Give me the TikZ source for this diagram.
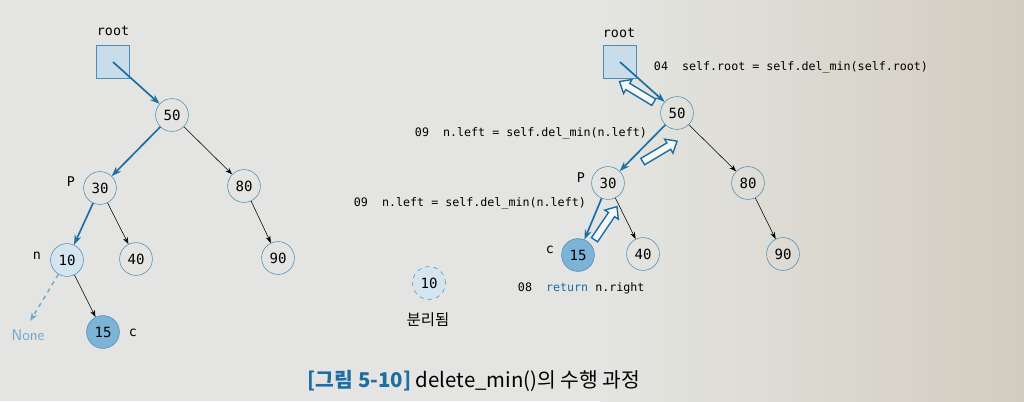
\documentclass[tikz,border=0pt]{standalone}
\usepackage{fontspec}
\setmonofont{DejaVu Sans Mono}
\newfontfamily\krfont{Noto Sans CJK KR}
\usetikzlibrary{positioning}
\usetikzlibrary{arrows.meta}
\usetikzlibrary{shapes.arrows}
\definecolor{lineblue}{HTML}{1C6EA4}
\definecolor{ringblue}{HTML}{4A8DBA}
\definecolor{boxfill}{HTML}{C8DCEA}
\definecolor{palefill}{HTML}{D4E5F0}
\definecolor{cfill}{HTML}{7DB3D6}
\definecolor{nonecol}{HTML}{6FA6D0}
\definecolor{bgleft}{HTML}{E4E5E2}
\definecolor{bgright}{HTML}{D3CDC0}
\tikzset{
  bst/.style={circle, draw=ringblue, thin, minimum size=0.82cm, inner sep=0pt, font=\ttfamily\fontsize{10}{12}\selectfont},
  rootbox/.style={draw=ringblue, fill=boxfill, minimum size=0.83cm, inner sep=0pt},
  edgeline/.style={-{Stealth[length=5pt,width=3.5pt]}, black, thin},
  walk/.style={-{Stealth[length=7pt,width=5pt]}, lineblue, line width=1.2pt},
  retarrow/.style={single arrow, draw=lineblue, line width=1pt, fill=white!70!bgleft, minimum height=1cm, inner xsep=0pt, inner ysep=0.075cm, single arrow head extend=0.11cm, single arrow tip angle=80},
  code/.style={font=\ttfamily\fontsize{8.3}{10}\selectfont, anchor=west},
  tag/.style={font=\ttfamily\fontsize{9.5}{11}\selectfont}
}
\begin{document}
\begin{tikzpicture}[x=0.025cm, y=-0.025cm]
	%Background
	\useasboundingbox (0,0) rectangle (1024,401);
	\fill[bgleft] (0,0) rectangle (1024,401);
	\shade[left color=bgleft, right color=bgright] (600,0) rectangle (1024,401);

	%Left tree
	\node[rootbox] (rootL) at (113,62) {};
	\node[tag] (rootLlabel) at (113,31) {root};
	\node[bst] (L50) at (172,115) {50};
	\node[bst] (L30) at (100,188) {30};
	\node[bst] (L80) at (244,186) {80};
	\node[bst, fill=palefill] (L10) at (67,260) {10};
	\node[bst] (L40) at (136,259) {40};
	\node[bst] (L90) at (278,258) {90};
	\node[bst, fill=cfill] (L15) at (103,332) {15};
	\node[tag] (pL) at (71,182) {P};
	\node[tag] (nL) at (37,256) {n};
	\node[tag] (cL) at (133,333) {c};
	\node[font=\sffamily\fontsize{11}{13}\selectfont, text=nonecol] (none) at (28,335) {None};

	\draw[walk] (rootL.center) -- (L50);
	\draw[walk] (L50) -- (L30);
	\draw[edgeline] (L50) -- (L80);
	\draw[walk] (L30) -- (L10);
	\draw[edgeline] (L30) -- (L40);
	\draw[edgeline] (L80) -- (L90);
	\draw[edgeline] (L10) -- (L15);
	\draw[-{Stealth[length=6pt,width=4.5pt]}, nonecol, line width=1pt, dashed, shorten >=3pt] (L10) -- (none.north);

	%Right tree
	\node[rootbox] (rootR) at (620,62) {};
	\node[tag] (rootRlabel) at (619,33) {root};
	\node[bst] (R50) at (677,113) {50};
	\node[bst] (R30) at (608,183) {30};
	\node[bst] (R80) at (748,183) {80};
	\node[bst, fill=cfill] (R15) at (578,255) {15};
	\node[bst] (R40) at (643,254) {40};
	\node[bst] (R90) at (783,254) {90};
	\node[tag] (pR) at (581,178) {P};
	\node[tag] (cR) at (550,250) {c};

	\draw[walk] (rootR.center) -- (R50);
	\draw[walk] (R50) -- (R30);
	\draw[edgeline] (R50) -- (R80);
	\draw[walk] (R30) -- (R15);
	\draw[edgeline] (R30) -- (R40);
	\draw[edgeline] (R80) -- (R90);

	%Return arrows
	\node[retarrow, rotate=148.8] (ret1) at (638.5,93) {};
	\node[retarrow, rotate=30.7] (ret2) at (658,152.5) {};
	\node[retarrow, rotate=55.9] (ret3) at (604.5,225) {};

	%Detached node
	\node[bst, fill=palefill, dashed] (D10) at (429,283) {10};
	\node[font=\krfont\fontsize{11}{13}\selectfont] (detached) at (428,320) {분리됨};

	%Code lines
	\node[code] (line04) at (649,67) {04\ \ self.root = self.del\_min(self.root)};
	\node[code] (line09a) at (410,133) {09\ \ n.left = self.del\_min(n.left)};
	\node[code] (line09b) at (349,203) {09\ \ n.left = self.del\_min(n.left)};
	\node[code] (line08) at (513,288) {08\ \ \textcolor{lineblue}{return} n.right};

	%Caption
	\node[font=\krfont\fontsize{14.5}{17}\selectfont] (caption) at (474,381) {\textcolor{lineblue}{\bfseries [그림 5-10]} delete\_min()의 수행 과정};
\end{tikzpicture}
\end{document}
